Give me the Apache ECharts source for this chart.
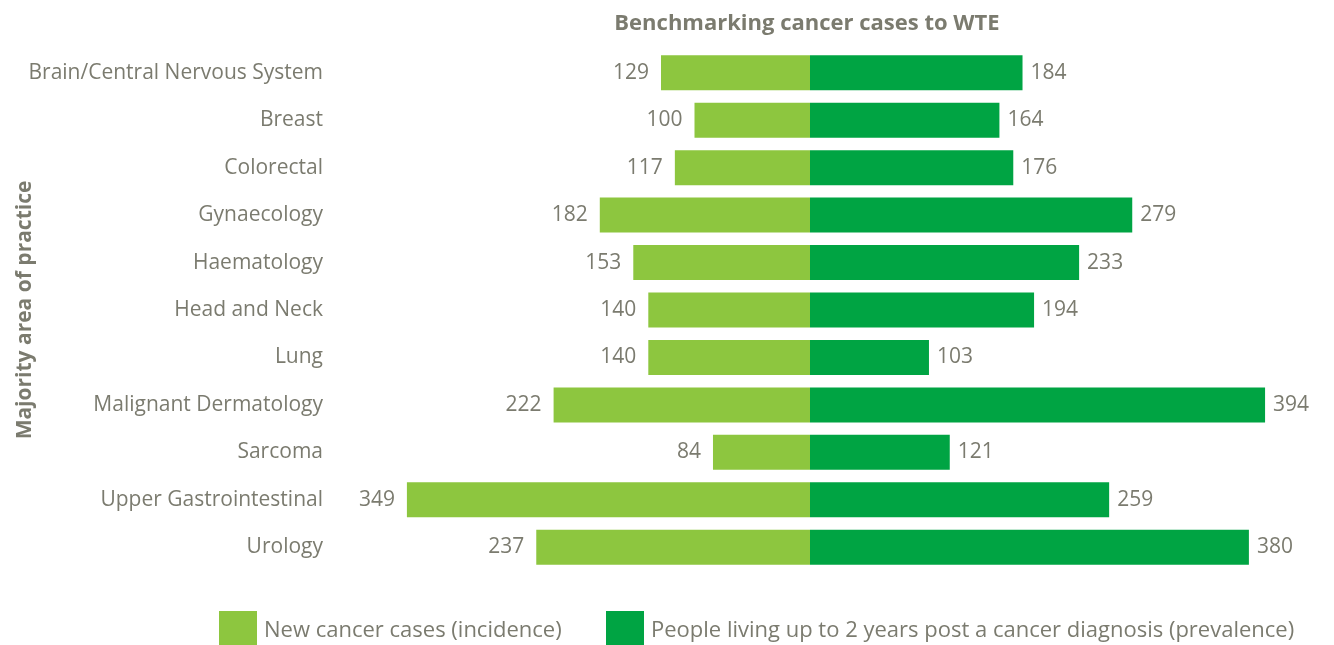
<!DOCTYPE html>
<html>
<head>
<meta charset="utf-8">
<script src="https://cdn.jsdelivr.net/npm/echarts@6/dist/echarts.min.js"></script>
<style>
  html, body { margin: 0; padding: 0; background: #ffffff; }
  #chart { width: 1334px; height: 645px; }
</style>
</head>
<body>
<div id="chart"></div>
<script>
// Cancer cases per WTE, by majority area of practice
const categories = [
  'Brain/Central Nervous System', 'Breast', 'Colorectal', 'Gynaecology',
  'Haematology', 'Head and Neck', 'Lung', 'Malignant Dermatology',
  'Sarcoma', 'Upper Gastrointestinal', 'Urology'
];
const incidence = [129, 100, 117, 182, 153, 140, 140, 222, 84, 349, 237];
const prevalence = [184, 164, 176, 279, 233, 194, 103, 394, 121, 259, 380];

const seriesNames = [
  'New cancer cases (incidence)',
  'People living up to 2 years post a cancer diagnosis (prevalence)'
];

const textColor = '#7b7b6f';
const fontFamily = '"Open Sans", Lato, sans-serif';

const legendBase = {
  top: 611,
  padding: 0,
  itemWidth: 38,
  itemHeight: 34,
  icon: 'rect',
  formatter: '{t|{name}}',
  textStyle: {
    fontSize: 22, color: textColor, fontFamily: fontFamily,
    rich: { t: { fontSize: 22, color: textColor, fontFamily: fontFamily, padding: [6, 0, 0, 2] } }
  }
};

const chart = echarts.init(document.getElementById('chart'));

chart.setOption({
  animation: false,
  textStyle: { fontFamily: fontFamily, color: textColor },
  title: {
    text: 'Benchmarking cancer cases to WTE',
    left: 802,
    textAlign: 'center',
    top: 8,
    textStyle: { fontSize: 22, fontWeight: 'bold', color: textColor, fontFamily: fontFamily }
  },
  legend: [
    Object.assign({ left: 219, data: [seriesNames[0]] }, legendBase),
    Object.assign({ left: 606, data: [seriesNames[1]] }, legendBase)
  ],
  grid: {
    left: 348, right: 62, top: 49, bottom: 74,
    containLabel: false,
    outerBoundsMode: 'none'
  },
  xAxis: {
    type: 'value',
    min: -400,
    max: 400,
    show: false
  },
  yAxis: {
    type: 'category',
    data: categories,
    inverse: true,
    axisLine: { show: false },
    axisTick: { show: false },
    splitLine: { show: false },
    axisLabel: { fontSize: 21, color: textColor, margin: 25, fontFamily: fontFamily },
    name: 'Majority area of practice',
    nameLocation: 'middle',
    nameRotate: 90,
    nameGap: 312,
    nameMoveOverlap: false,
    nameTextStyle: { fontSize: 21, fontWeight: 'bold', color: textColor, fontFamily: fontFamily }
  },
  series: [
    {
      name: seriesNames[0],
      type: 'bar',
      stack: 'total',
      barWidth: 35,
      itemStyle: { color: '#8dc63f' },
      label: {
        show: true,
        position: 'left',
        distance: 12,
        fontSize: 21,
        color: textColor,
        fontFamily: fontFamily,
        formatter: p => Math.abs(p.value)
      },
      data: incidence.map(v => -v)
    },
    {
      name: seriesNames[1],
      type: 'bar',
      stack: 'total',
      barWidth: 35,
      itemStyle: { color: '#00a443' },
      label: {
        show: true,
        position: 'right',
        distance: 8,
        fontSize: 21,
        color: textColor,
        fontFamily: fontFamily
      },
      data: prevalence
    }
  ]
});
</script>
</body>
</html>
